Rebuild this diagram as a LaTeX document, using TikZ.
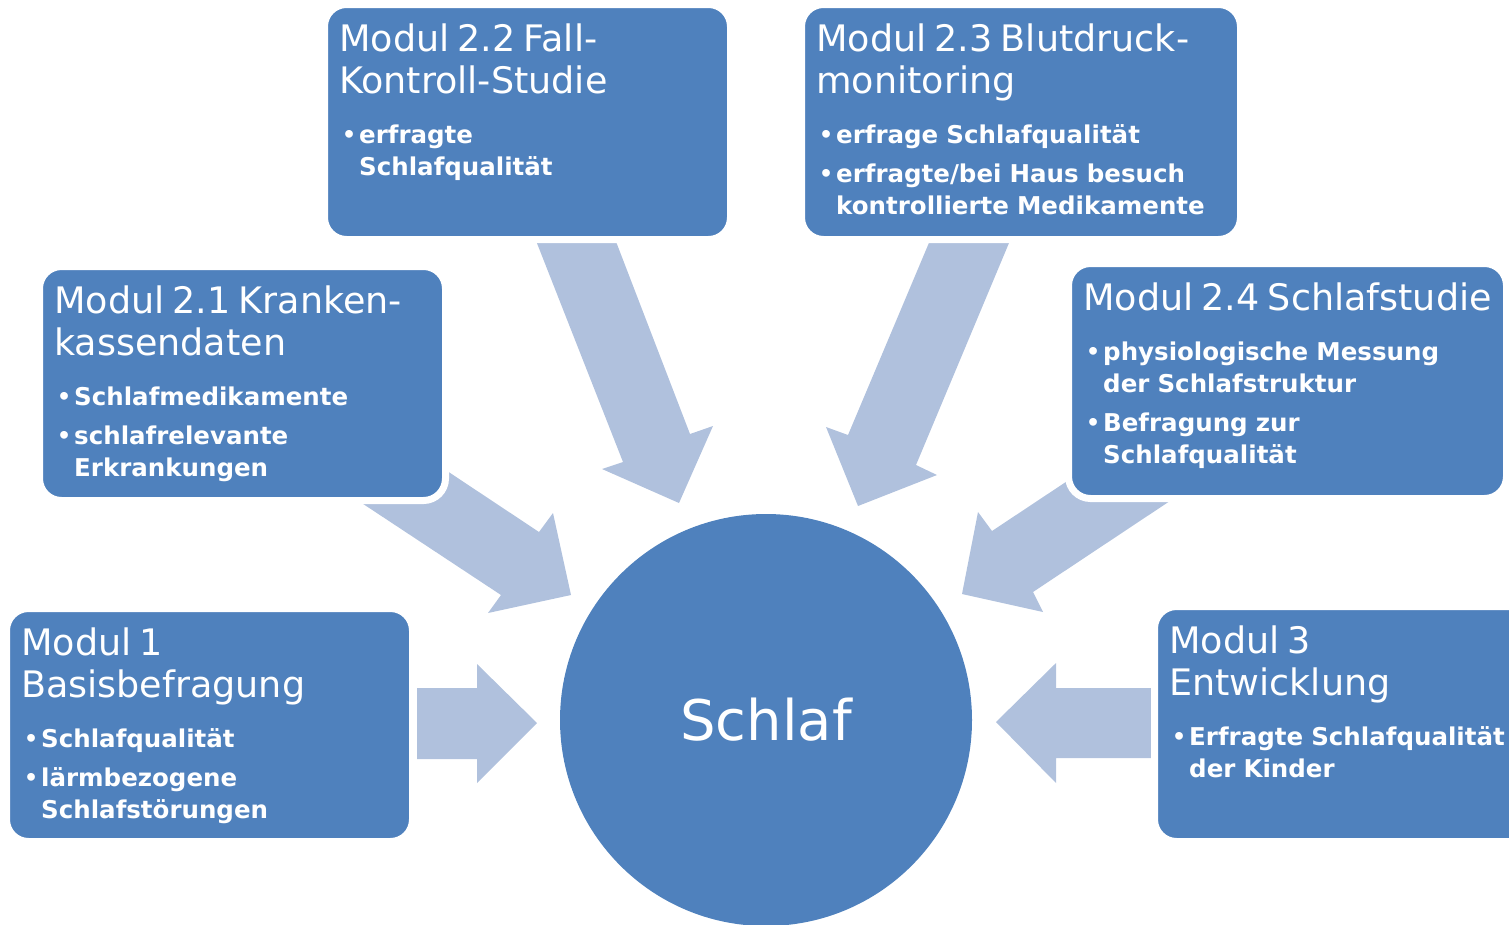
\documentclass[tikz,border=0pt]{standalone}
\usepackage{fontspec}
\setmainfont{DejaVu Sans}
\definecolor{modulblau}{RGB}{79,129,189}
\definecolor{pfeilblau}{RGB}{176,193,221}
% Aufzaehlungspunkt mit haengendem Einzug
\newcommand{\punkt}[1]{\par\hangindent=20pt\hangafter=1\noindent\hspace*{3pt}%
  \makebox[17pt][l]{\raisebox{1pt}{\fontsize{22}{22}\selectfont\textbullet}}#1\par}
\newcommand{\titel}[1]{{\fontsize{36.5}{42}\selectfont\mdseries #1\par}\vspace{18pt}}
\tikzset{
  modul/.style={rectangle, rounded corners=22pt, fill=modulblau, draw=white, line width=7pt, inner sep=0pt},
  modultext/.style={anchor=base west, inner sep=0pt, text=white, text width=440pt,
    font=\fontsize{24.5}{32}\selectfont\bfseries},
  pfeil/.style={fill=pfeilblau},
  kreis/.style={circle, fill=modulblau, minimum size=412pt, inner sep=0pt, text=white,
    font=\fontsize{56}{60}\selectfont}
}
\begin{document}
\begin{tikzpicture}[x=1pt,y=-1pt]
	\useasboundingbox (0,0) rectangle (1509,924);
	\clip (0,0) rectangle (1509,924);

	% pfeile
	\fill[pfeil] (520,200) -- (623,462) -- (602,469) -- (679,503) -- (713,426) -- (690,434) -- (600,200) -- cycle;
	\fill[pfeil] (947,200) -- (848,435) -- (826,427) -- (858,506) -- (937,475) -- (916,465) -- (1027,200) -- cycle;
	\fill[pfeil] (414,449) -- (539,532) -- (553,513) -- (571,595) -- (488,613) -- (501,595) -- (342,490) -- cycle;
	\fill[pfeil] (1117,448) -- (992,531) -- (978,512) -- (962,594) -- (1043,612) -- (1033,592) -- (1200,481) -- cycle;
	\fill[pfeil] (417,688) -- (477,688) -- (477,664) -- (537,723) -- (477,783) -- (477,759) -- (417,759) -- cycle;
	\fill[pfeil] (1152,688) -- (1056,688) -- (1056,663) -- (996,722) -- (1056,783) -- (1056,758) -- (1152,758) -- cycle;

	% module
	\node[modul, minimum width=406pt, minimum height=235pt] (m22) at (527.5,122) {};
	\node[modul, minimum width=439pt, minimum height=235pt] (m23) at (1021,122) {};
	\node[modul, minimum width=406pt, minimum height=234pt] (m21) at (242.5,383.5) {};
	\node[modul, minimum width=438pt, minimum height=235pt] (m24) at (1287.5,381) {};
	\node[modul, minimum width=406pt, minimum height=233pt] (m1) at (209.5,725) {};
	\node[modul, minimum width=439pt, minimum height=235pt] (m3) at (1374,724) {};

	% texte
	\node[modultext] (m22txt) at (339,51) {%
		\titel{Modul 2.2 Fall-\newline Kontroll-Studie}
		\punkt{erfragte\newline Schlafqualität}};
	\node[modultext] (m23txt) at (816,51) {%
		\titel{Modul 2.3 Blutdruck-\newline monitoring}
		\punkt{erfrage Schlafqualität}\vspace{7pt}
		\punkt{erfragte/bei Haus besuch\newline kontrollierte Medikamente}};
	\node[modultext] (m21txt) at (54,313) {%
		\titel{Modul 2.1 Kranken-\newline kassendaten}
		\punkt{Schlafmedikamente}\vspace{7pt}
		\punkt{schlafrelevante\newline Erkrankungen}};
	\node[modultext] (m24txt) at (1083,310) {%
		\titel{Modul 2.4 Schlafstudie}
		\punkt{physiologische Messung\newline der Schlafstruktur}\vspace{7pt}
		\punkt{Befragung zur\newline Schlafqualität}};
	\node[modultext] (m1txt) at (21,655) {%
		\titel{Modul 1\newline Basisbefragung}
		\punkt{Schlafqualität}\vspace{7pt}
		\punkt{lärmbezogene\newline Schlafstörungen}};
	\node[modultext] (m3txt) at (1169,653) {%
		\titel{Modul 3\newline Entwicklung}
		\punkt{Erfragte Schlafqualität\newline der Kinder}};

	% zentrum
	\node[kreis] (schlaf) at (766,720) {Schlaf};
\end{tikzpicture}
\end{document}
